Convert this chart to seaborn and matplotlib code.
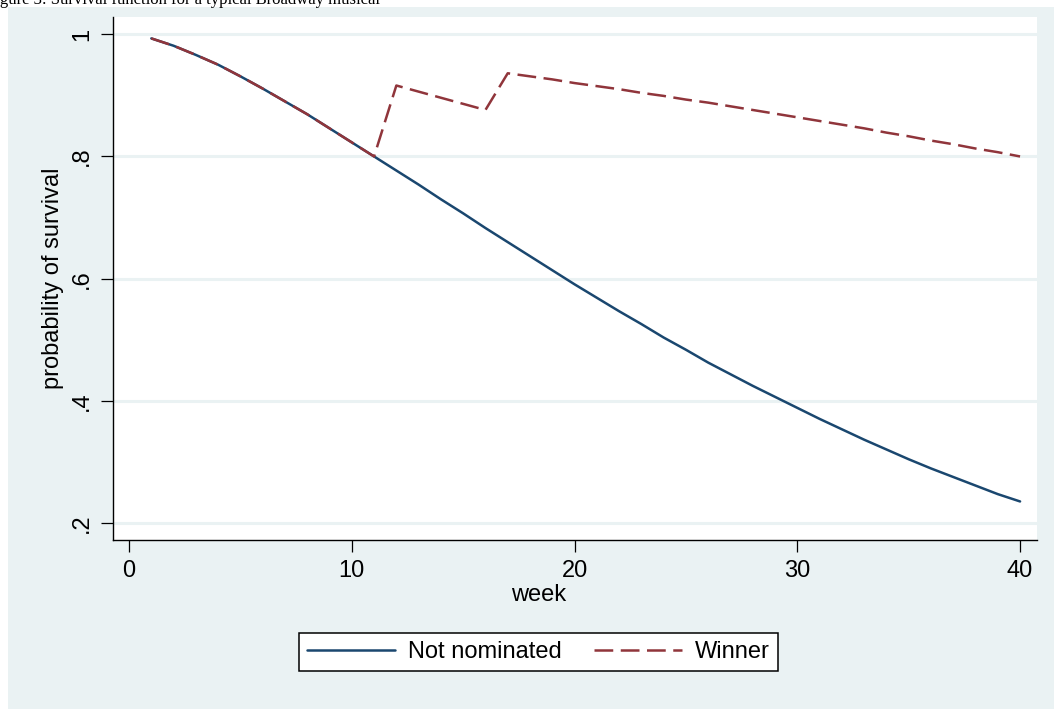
import numpy as np
import pandas as pd
import matplotlib
matplotlib.use("Agg")
import matplotlib.pyplot as plt
from matplotlib.patches import Rectangle
import seaborn as sns

# survival probabilities, weeks 1..40
weeks = list(range(1, 41))
not_nominated = [0.993, 0.981, 0.966, 0.950, 0.931, 0.911, 0.890, 0.869, 0.846, 0.823,
                 0.800, 0.777, 0.754, 0.730, 0.707, 0.683, 0.660, 0.637, 0.614, 0.591,
                 0.569, 0.547, 0.526, 0.504, 0.484, 0.463, 0.444, 0.425, 0.407, 0.389,
                 0.371, 0.354, 0.337, 0.321, 0.305, 0.290, 0.276, 0.262, 0.248, 0.236]
winner = [0.993, 0.981, 0.966, 0.950, 0.931, 0.911, 0.890, 0.869, 0.846, 0.823,
          0.800, 0.916, 0.906, 0.896, 0.886, 0.876, 0.936, 0.931, 0.926, 0.920,
          0.915, 0.910, 0.904, 0.899, 0.893, 0.888, 0.882, 0.876, 0.870, 0.864,
          0.858, 0.852, 0.846, 0.839, 0.833, 0.826, 0.820, 0.813, 0.807, 0.800]
groups = ["Not nominated", "Winner"]
y_ticks = [0.2, 0.4, 0.6, 0.8, 1.0]
y_ticklabels = [".2", ".4", ".6", ".8", "1"]
x_ticks = [0, 10, 20, 30, 40]

df = pd.DataFrame({
    "week": weeks * 2,
    "survival": not_nominated + winner,
    "group": [groups[0]] * len(weeks) + [groups[1]] * len(weeks),
})

sns.set_style("white")
plt.rcParams["font.family"] = ["Liberation Sans", "DejaVu Sans"]
plt.rcParams.update({"text.color": "black", "axes.labelcolor": "black",
                     "xtick.color": "black", "ytick.color": "black"})

bg = "#EAF2F3"
navy = "#1A476F"
maroon = "#90353B"

fig = plt.figure(figsize=(10.54, 7.09), dpi=100, facecolor="white")
fig.patches.append(Rectangle((8 / 1054, 0), 1, 1 - 7 / 709, transform=fig.transFigure,
                             facecolor=bg, edgecolor="none", zorder=-10))
fig.text(-14 / 1054, 1 - 4 / 709, "Figure 3: Survival function for a typical Broadway musical",
         family="Liberation Serif", fontsize=12, va="baseline", ha="left", color="black")

ax = fig.add_axes([113 / 1054, 1 - 540 / 709, 924 / 1054, 523 / 709])
ax.set_facecolor("white")

sns.lineplot(data=df, x="week", y="survival", hue="group", style="group",
             hue_order=groups, style_order=groups,
             palette={groups[0]: navy, groups[1]: maroon},
             dashes={groups[0]: "", groups[1]: (7.5, 3)},
             linewidth=1.8, ax=ax)
handles, labels = ax.get_legend_handles_labels()
ax.legend_.remove()

ax.set_xlim(-0.72, 40.76)
ax.set_ylim(0.173, 1.028)
ax.set_xticks(x_ticks)
ax.set_yticks(y_ticks)
ax.set_yticklabels(y_ticklabels)
for y in y_ticks:
    ax.axhline(y, color=bg, lw=2.2, zorder=0)

for side in ["top", "right"]:
    ax.spines[side].set_visible(False)
for side in ["left", "bottom"]:
    ax.spines[side].set_color("black")
    ax.spines[side].set_linewidth(1.0)

ax.tick_params(axis="both", direction="out", length=8.5, width=0.9, color="black",
               labelsize=17, bottom=True, left=True, labelcolor="black")
ax.tick_params(axis="x", pad=6)
ax.tick_params(axis="y", pad=6, labelrotation=90)
for lab in ax.get_yticklabels():
    lab.set_va("center")

ax.set_xlabel("week", fontsize=17, labelpad=0)
ax.xaxis.set_label_coords((539 - 113) / 924, -0.085)
ax.set_ylabel("probability of survival", fontsize=17, labelpad=5)

fig.legend(handles, labels, loc="center", ncol=2,
           bbox_to_anchor=(538.5 / 1054, 1 - 652 / 709),
           fontsize=17, frameon=True, fancybox=False, framealpha=1,
           edgecolor="black", facecolor="white",
           handlelength=3.7, handletextpad=0.55, columnspacing=1.4,
           borderpad=0.35).get_frame().set_linewidth(1.1)

fig.savefig("out.png", dpi=100, facecolor=fig.get_facecolor())
